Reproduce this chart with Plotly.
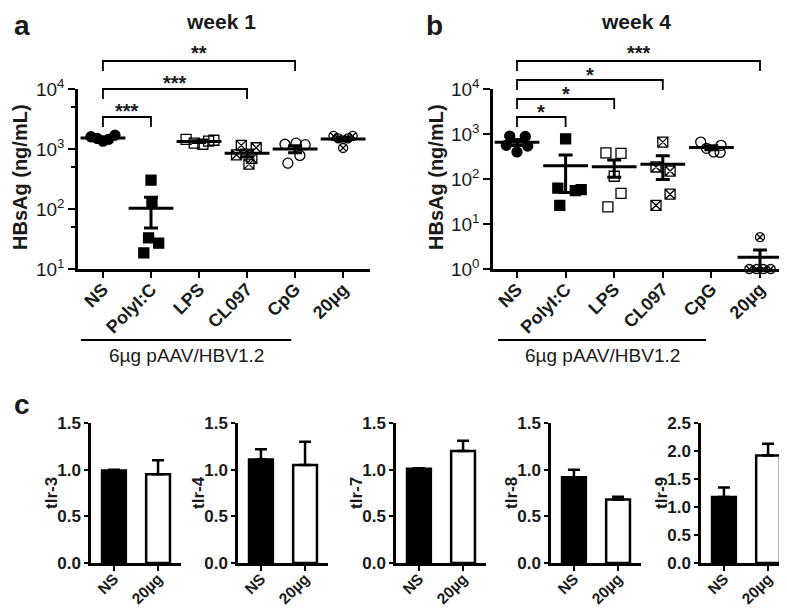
import plotly.graph_objects as go
import numpy as np

W, H = 787, 608
OFF_X, OFF_Y = 0, 8  # page offset of the plot div in the browser

# ---------------- data ----------------
categories = ["NS", "PolyI:C", "LPS", "CL097", "CpG", "20µg"]

week1_NS = [1600, 1500, 1350, 1450, 1700]
week1_PolyIC = [304, 131, 33, 27, 18.5]
week1_LPS = [1450, 1250, 1200, 1350, 1400]
week1_CL097 = [1150, 1050, 800, 700, 560]
week1_CpG = [1200, 1250, 1180, 580, 780]
week1_20ug = [1650, 1650, 1040, 1500, 1500]

week4_NS = [900, 880, 560, 540, 400]
week4_PolyIC = [780, 63, 55, 58, 26]
week4_LPS = [380, 370, 115, 48, 24]
week4_CL097 = [660, 185, 150, 46, 26]
week4_CpG = [660, 560, 480, 400, 390]
week4_20ug = [5.1, 1.0, 1.0, 1.0, 1.0]

week1_sig_groups = ["PolyI:C", "CL097", "CpG"]
week1_sig_stars = ["***", "***", "**"]
week4_sig_groups = ["PolyI:C", "LPS", "CL097", "20µg"]
week4_sig_stars = ["*", "*", "*", "***"]

log_tickvals = [1, 10, 100, 1000, 10000]
log_ticktext = ["10<sup>0</sup>", "10<sup>1</sup>", "10<sup>2</sup>", "10<sup>3</sup>", "10<sup>4</sup>"]

tlr_genes = ["tlr-3", "tlr-4", "tlr-7", "tlr-8", "tlr-9"]
tlr_groups = ["NS", "20µg"]
tlr_mean_NS = [0.99, 1.11, 1.01, 0.92, 1.18]
tlr_err_NS = [0.01, 0.11, 0.005, 0.08, 0.17]
tlr_mean_20 = [0.95, 1.05, 1.20, 0.68, 1.92]
tlr_err_20 = [0.15, 0.25, 0.11, 0.03, 0.21]
tlr_ymax = [1.5, 1.5, 1.5, 1.5, 2.5]

# ---------------- layout constants ----------------
FONT = "Liberation Sans, Arial, sans-serif"
TXT = "#1a1a1a"
symbols = ["circle", "square", "square-open", "square-x-open", "circle-open", "circle-x-open"]
offsets_w1 = [
    [-0.25, -0.12, 0.0, 0.12, 0.25],
    [0.0, 0.02, -0.05, 0.16, -0.15],
    [-0.27, -0.1, 0.08, 0.2, 0.31],
    [-0.12, 0.19, -0.22, 0.1, 0.04],
    [-0.21, 0.02, 0.21, -0.15, 0.1],
    [-0.2, 0.2, 0.0, -0.1, 0.1],
]
offsets_w4 = [
    [-0.15, 0.17, -0.22, 0.22, 0.0],
    [0.0, -0.16, 0.2, 0.32, -0.12],
    [-0.17, 0.14, 0.0, 0.14, -0.13],
    [0.0, -0.14, 0.15, 0.15, -0.14],
    [-0.22, 0.2, -0.1, 0.05, 0.18],
    [0.0, -0.22, -0.07, 0.07, 0.22],
]


def px_x(p):
    return (p - OFF_X) / W


def px_y(p):
    return 1 - (p - OFF_Y) / H


fig = go.Figure()

annotations = []
shapes = []


def ann(**kw):
    kw.setdefault("xanchor", "center")
    kw.setdefault("yanchor", "middle")
    kw.setdefault("showarrow", False)
    annotations.append(kw)


def add_scatter_panel(groups, offsets, xa, ya, mean_size):
    means, sems = [], []
    for i, vals in enumerate(groups):
        v = np.array(vals, dtype=float)
        means.append(v.mean())
        sems.append(v.std(ddof=1) / np.sqrt(len(v)))
        fig.add_trace(go.Scatter(
            x=[i + o for o in offsets[i]], y=vals, mode="markers",
            xaxis=xa, yaxis=ya, showlegend=False, cliponaxis=False,
            marker=dict(symbol=symbols[i], size=10 if i != 5 else 9, color="black",
                        line=dict(color="black", width=1.3)),
        ))
    fig.add_trace(go.Scatter(
        x=list(range(len(groups))), y=means, mode="markers",
        xaxis=xa, yaxis=ya, showlegend=False, cliponaxis=False,
        marker=dict(symbol="line-ew", size=mean_size, color="black",
                    line=dict(color="black", width=3)),
        error_y=dict(type="data", array=sems, thickness=3, width=7, color="black"),
    ))


add_scatter_panel([week1_NS, week1_PolyIC, week1_LPS, week1_CL097, week1_CpG, week1_20ug],
                  offsets_w1, "x", "y", 32)
add_scatter_panel([week4_NS, week4_PolyIC, week4_LPS, week4_CL097, week4_CpG, week4_20ug],
                  offsets_w4, "x2", "y2", 32)

# bar panels
for k, g in enumerate(tlr_genes):
    n = k + 3
    fig.add_trace(go.Bar(
        x=[0, 1], y=[tlr_mean_NS[k], tlr_mean_20[k]],
        xaxis=f"x{n}", yaxis=f"y{n}", width=0.54, showlegend=False,
        marker=dict(color=["black", "white"], line=dict(color="black", width=2.5)),
        error_y=dict(type="data", symmetric=False, array=[tlr_err_NS[k], tlr_err_20[k]],
                     arrayminus=[0, 0], thickness=2.5, width=6, color="black"),
    ))

layout = dict(
    width=W, height=H, margin=dict(l=0, r=0, t=0, b=0, autoexpand=False),
    paper_bgcolor="white", plot_bgcolor="white",
    font=dict(family=FONT, color=TXT),
)

axis_common = dict(showgrid=False, zeroline=False, showline=True, linecolor="black",
                   ticks="outside", tickcolor="black", automargin=False)

# panel a
layout["xaxis"] = dict(axis_common, domain=[px_x(70), px_x(362)], range=[-0.52, 5.56],
                       anchor="y", tickvals=list(range(6)), ticktext=categories, tickangle=-45,
                       linewidth=2.5, tickwidth=2, ticklen=6, ticklabelstandoff=-6,
                       tickfont=dict(size=18, weight="bold", family=FONT, color=TXT))
layout["yaxis"] = dict(axis_common, domain=[px_y(269), px_y(89)], type="log", range=[1, 4],
                       anchor="x", tickvals=log_tickvals[1:], ticktext=log_ticktext[1:],
                       linewidth=2.5, tickwidth=2, ticklen=7,
                       tickfont=dict(size=19, family=FONT, color=TXT),
                       minor=dict(tickvals=[50, 500, 5000], ticks="outside", ticklen=4,
                                  tickwidth=2, tickcolor="black"))
# panel b
layout["xaxis2"] = dict(axis_common, domain=[px_x(485), px_x(778)], range=[-0.494, 5.535],
                        anchor="y2", tickvals=list(range(6)), ticktext=categories, tickangle=-45,
                        linewidth=2.5, tickwidth=2, ticklen=6, ticklabelstandoff=-6,
                        tickfont=dict(size=18, weight="bold", family=FONT, color=TXT))
layout["yaxis2"] = dict(axis_common, domain=[px_y(269), px_y(89)], type="log", range=[0, 4],
                        anchor="x2", tickvals=log_tickvals, ticktext=log_ticktext,
                        linewidth=2.5, tickwidth=2, ticklen=7,
                        tickfont=dict(size=19, family=FONT, color=TXT))

bar_starts = [83, 230, 388, 543, 693]
for k in range(5):
    n = k + 3
    layout[f"xaxis{n}"] = dict(axis_common, domain=[px_x(bar_starts[k]), px_x(bar_starts[k] + 90)],
                               range=[-0.52, 1.52], anchor=f"y{n}", tickvals=[0, 1],
                               ticktext=tlr_groups, tickangle=-45, linewidth=2.5, tickwidth=2,
                               ticklen=5, ticklabelstandoff=-7,
                               tickfont=dict(size=15.5, weight="bold", family=FONT, color=TXT))
    layout[f"yaxis{n}"] = dict(axis_common, domain=[px_y(563), px_y(423)],
                               range=[0, tlr_ymax[k]], dtick=0.5, tickformat=".1f",
                               anchor=f"x{n}", linewidth=2.5, tickwidth=2, ticklen=4,
                               tickfont=dict(size=17, weight="bold", family=FONT, color=TXT))
    ann(text=f"<b>{tlr_genes[k]}</b>", textangle=-90, xref="paper", yref="paper",
        x=px_x(bar_starts[k] - 40), y=px_y(493), font=dict(size=17, family=FONT, color=TXT))


# significance brackets
def add_brackets(xref, groups, stars, levels, star_y):
    for g, s, lev, sy in zip(groups, stars, levels, star_y):
        j = categories.index(g)
        shapes.append(dict(type="path", xref=xref, yref="paper",
                           path=f"M 0 {px_y(lev + 10)} L 0 {px_y(lev)} L {j} {px_y(lev)} L {j} {px_y(lev + 10)}",
                           line=dict(color="black", width=1.8)))
        ann(text=f"<b>{s}</b>", xref=xref, yref="paper", x=j / 2, y=px_y(sy),
            font=dict(size=20, family=FONT, color=TXT))


add_brackets("x", week1_sig_groups, week1_sig_stars, [117, 89, 61], [111, 83, 53])
add_brackets("x2", week4_sig_groups, week4_sig_stars, [117, 99, 80, 61], [112, 94, 75, 53])

# underline + plasmid label
for xr, x0, x1 in [("x", -0.46, 3.92), ("x2", -0.39, 3.89)]:
    shapes.append(dict(type="line", xref=xr, yref="paper", x0=x0, x1=x1, y0=px_y(340), y1=px_y(340),
                       line=dict(color="black", width=2)))
    ann(text="6µg pAAV/HBV1.2", xref=xr, yref="paper", x=(x0 + x1) / 2, y=px_y(356),
        font=dict(size=19, family=FONT, color=TXT))

# titles, letters, y titles
ann(text="<b>week 1</b>", xref="paper", yref="paper", x=px_x(213), y=px_y(21),
    font=dict(size=21, family=FONT, color=TXT))
ann(text="<b>week 4</b>", xref="paper", yref="paper", x=px_x(628), y=px_y(21),
    font=dict(size=21, family=FONT, color=TXT))
ann(text="<b>a</b>", xref="paper", yref="paper", x=px_x(14), y=1.0, yanchor="top",
    font=dict(size=28, family=FONT, color=TXT))
ann(text="<b>b</b>", xref="paper", yref="paper", x=px_x(426), y=1.0, yanchor="top",
    font=dict(size=28, family=FONT, color=TXT))
ann(text="<b>c</b>", xref="paper", yref="paper", x=px_x(14), y=px_y(404),
    font=dict(size=28, family=FONT, color=TXT))
ann(text="<b>HBsAg (ng/mL)</b>", textangle=-90, xref="paper", yref="paper", x=px_x(12),
    y=px_y(177), font=dict(size=20, family=FONT, color=TXT))
ann(text="<b>HBsAg (ng/mL)</b>", textangle=-90, xref="paper", yref="paper", x=px_x(428),
    y=px_y(177), font=dict(size=20, family=FONT, color=TXT))

layout["annotations"] = annotations
layout["shapes"] = shapes
fig.update_layout(**layout)
fig.write_html("out.html")
